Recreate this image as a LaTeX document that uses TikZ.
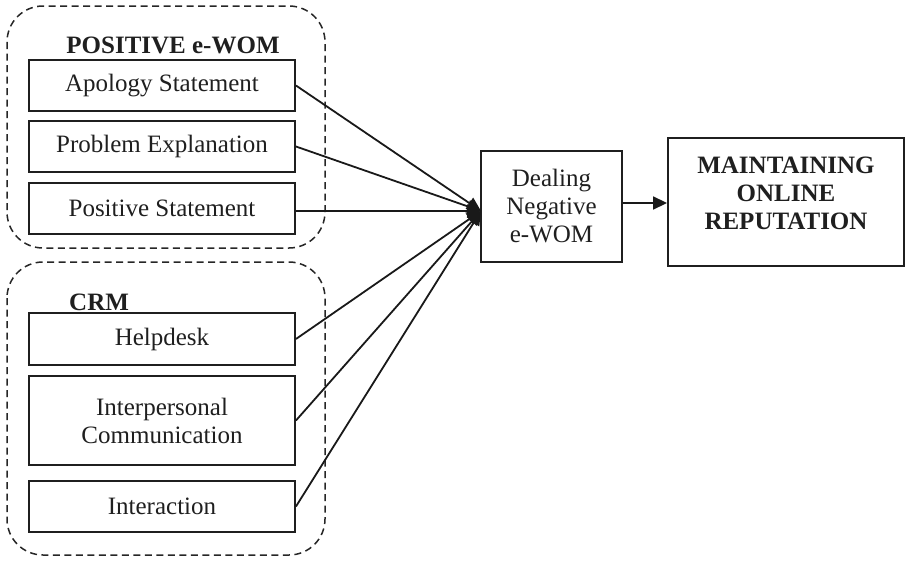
\documentclass[tikz,border=0pt]{standalone}
\usepackage{fontspec}
\setmainfont{Liberation Serif}
\usetikzlibrary{arrows.meta}
\begin{document}
\begin{tikzpicture}[x=1pt,y=-1pt,
  box/.style={draw=black!88, line width=1.9pt, inner sep=0pt, font=\fontsize{25}{28}\selectfont, align=center, text=black!88},
  item/.style={box, minimum width=266pt},
  grp/.style={draw=black!85, dash pattern=on 7pt off 4.5pt, rounded corners=36pt, line width=1.5pt},
  conn/.style={draw=black!90, line width=1.8pt, -{Triangle[length=14pt,width=13pt]}},
  ttl/.style={font=\fontsize{25}{28}\selectfont\bfseries, text=black!88, inner sep=0pt, align=center}]
\useasboundingbox (0,0) rectangle (906,565);
% groups
\draw[grp] (7,6) rectangle (325,248);
\draw[grp] (7,262) rectangle (325,555);
\node[ttl] (t1) at (173,45) {POSITIVE e-WOM};
\node[ttl, anchor=west] (t2) at (69,302) {CRM};
% items
\node[item, minimum height=51pt] (a1) at (162,85.5) {Apology Statement};
\node[item, minimum height=51pt] (a2) at (162,146.5) {Problem Explanation};
\node[item, minimum height=51pt] (a3) at (162,208.5) {Positive Statement};
\node[item, minimum height=52pt] (c1) at (162,339) {Helpdesk};
\node[item, minimum height=89pt] (c2) at (162,420.5) {Interpersonal\\Communication};
\node[item, minimum height=51pt] (c3) at (162,506.5) {Interaction};
% center and result
\node[box, minimum width=141pt, minimum height=111pt] (dl) at (551.5,206.5) {Dealing\\Negative\\e-WOM};
\node[box, minimum width=236pt, minimum height=128pt] (mor) at (786,202) {};
\node[ttl] (mort) at (786,193) {MAINTAINING\\ONLINE\\REPUTATION};
\coordinate (hub) at (481,211);
% connectors
\foreach \s in {a1,a2,c1,c2,c3} \draw[conn] (\s.east) -- (hub);
\draw[conn] (a3.east |- hub) -- (hub);
\draw[conn] (dl.east |- 0,203) -- (mor.west |- 0,203);
\end{tikzpicture}
\end{document}
